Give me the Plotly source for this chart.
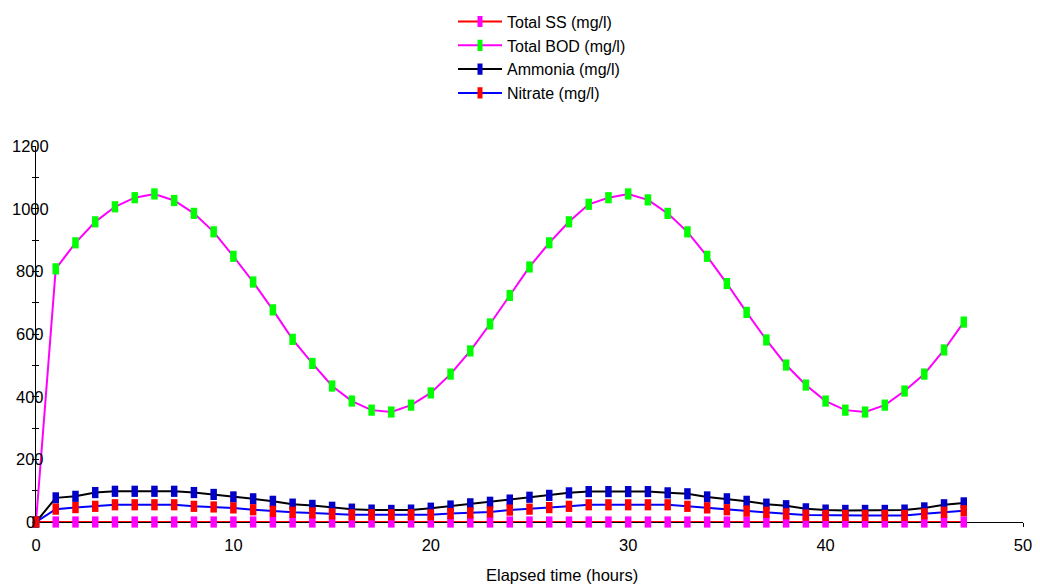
import plotly.graph_objects as go

hours = list(range(48))

total_ss = [0] * 48

total_bod = [0, 808, 891, 958, 1006, 1035, 1047, 1026, 985, 926, 848, 766, 677, 583,
             506, 434, 386, 357, 351, 373, 412, 472, 546, 632, 723, 814, 891, 958,
             1014, 1035, 1047, 1028, 985, 926, 848, 761, 669, 581, 501, 437, 386, 357,
             351, 373, 418, 472, 549, 638]

ammonia = [0, 77, 82, 94, 98, 98, 98, 98, 94, 88, 80, 74, 66, 57,
           53, 47, 41, 38, 37, 38, 44, 51, 58, 63, 70, 79, 85, 93,
           97, 97, 97, 97, 93, 90, 80, 74, 66, 57, 52, 42, 38, 37,
           37, 37, 38, 45, 55, 61]

nitrate = [0, 41, 46, 50, 55, 55, 55, 55, 50, 48, 45, 39, 34, 31,
           29, 26, 23, 23, 23, 23, 23, 27, 29, 32, 38, 41, 46, 50,
           55, 55, 55, 55, 55, 50, 45, 39, 35, 31, 26, 22, 21, 21,
           21, 21, 21, 26, 31, 36]

y_ticks = [0, 200, 400, 600, 800, 1000, 1200]
x_ticks = [0, 10, 20, 30, 40, 50]

series = [
    ("Total SS (mg/l)", total_ss, "#ff0000", "#ff00ff"),
    ("Total BOD (mg/l)", total_bod, "#ff00ff", "#00ff00"),
    ("Ammonia (mg/l)", ammonia, "#000000", "#0000c8"),
    ("Nitrate (mg/l)", nitrate, "#0000ff", "#ff0000"),
]

FONT = "Liberation Sans, Arial, sans-serif"
FS = 16.5

fig = go.Figure()
for name, vals, lc, mc in series:
    fig.add_trace(go.Scatter(
        x=hours, y=vals, name=name, mode="lines+markers", cliponaxis=False,
        line=dict(color=lc, width=2),
        marker=dict(symbol="line-ns", size=8, line=dict(color=mc, width=6.5)),
    ))

# overlay axes for inward half of crossing ticks
fig.add_trace(go.Scatter(x=[], y=[], xaxis="x2", yaxis="y2", showlegend=False))

annotations = []
for v in y_ticks:
    annotations.append(dict(
        text=str(v), x=0, xref="paper", y=v, yref="y", xshift=-6,
        xanchor="center", yanchor="middle", showarrow=False,
        font=dict(family=FONT, size=FS, color="#000000"),
    ))
annotations.append(dict(
    text="Elapsed time (hours)", x=0.533, xref="paper", y=0, yref="paper",
    yshift=-53, xanchor="center", yanchor="middle", showarrow=False,
    font=dict(family=FONT, size=FS, color="#000000"),
))

fig.update_layout(
    width=1040, height=584,
    margin=dict(l=36, r=17, t=146, b=62, autoexpand=False),
    paper_bgcolor="white", plot_bgcolor="white",
    font=dict(family=FONT, size=FS, color="#000000"),
    showlegend=True,
    legend=dict(x=0.4225, y=1.376, xanchor="left", yanchor="top", itemwidth=44,
                font=dict(family=FONT, size=16, color="#000000"),
                bgcolor="rgba(0,0,0,0)", tracegroupgap=0),
    xaxis=dict(range=[0, 50], tickvals=x_ticks, ticks="outside", ticklen=4,
               tickcolor="#000000", showline=True, linecolor="#000000", linewidth=1,
               showgrid=False, zeroline=False, automargin=False, ticklabelstandoff=4,
               layer="below traces",
               tickfont=dict(family=FONT, size=FS, color="#000000")),
    yaxis=dict(range=[0, 1200], dtick=100, ticks="outside", ticklen=3,
               tickcolor="#000000", showline=True, linecolor="#000000", linewidth=1,
               showgrid=False, zeroline=False, showticklabels=False, automargin=False,
               layer="below traces"),
    xaxis2=dict(range=[0, 50], tickvals=x_ticks, ticks="inside", ticklen=4,
                tickcolor="#000000", overlaying="x", anchor="y", side="bottom",
                showline=False, showgrid=False, zeroline=False, showticklabels=False,
                automargin=False, layer="below traces"),
    yaxis2=dict(range=[0, 1200], dtick=100, ticks="inside", ticklen=3,
                tickcolor="#000000", overlaying="y", anchor="x", side="left",
                showline=False, showgrid=False, zeroline=False, showticklabels=False,
                automargin=False, layer="below traces"),
    annotations=annotations,
)

fig.write_html("out.html")
